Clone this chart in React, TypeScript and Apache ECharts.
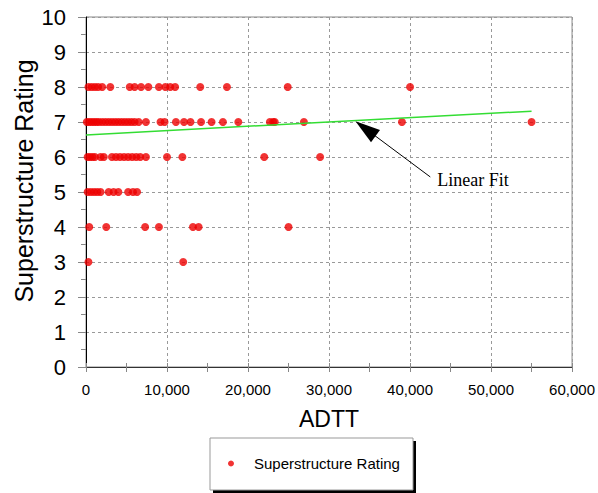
import React, { useEffect, useRef } from "react";
import * as echarts from "echarts";

// ADTT values observed for each superstructure rating
const rating8 = [300, 700, 1100, 1500, 2000, 3000, 5400, 6000, 6800, 7700, 9000, 9800, 10400, 11000, 14100, 17400, 24900, 40000];
const rating7 = [100, 400, 700, 1000, 1300, 1600, 2000, 2400, 2800, 3200, 3600, 4000, 4400, 4800, 5200, 5600, 6000, 6500, 7400, 9200, 9700, 11100, 12100, 12900, 14200, 15500, 16900, 18800, 22700, 23100, 23300, 26900, 39000, 55000];
const rating6 = [200, 500, 800, 1100, 1800, 2200, 3200, 3700, 4200, 4700, 5200, 5700, 6200, 6700, 7400, 10000, 11900, 22000, 28900];
const rating5 = [200, 600, 1000, 1400, 1800, 2800, 3400, 4000, 5200, 5800, 6300];
const rating4 = [400, 2500, 7300, 9000, 13200, 13900, 25000];
const rating3 = [300, 12000];

const ratingGroups: [number, number[]][] = [
  [8, rating8],
  [7, rating7],
  [6, rating6],
  [5, rating5],
  [4, rating4],
  [3, rating3],
];

// Linear fit end points
const fitX = [0, 55000];
const fitY = [6.63, 7.31];

// Annotation: arrow tail / arrowhead centre and label anchor, in data units
const arrowTail = [42500, 5.43];
const arrowHead = [34500, 6.81];
const fitLabelAt = [43300, 5.34];

const seriesName = "Superstructure Rating";

export default function App() {
  const ref = useRef<HTMLDivElement>(null);

  useEffect(() => {
    if (!ref.current) return;
    const chart = echarts.init(ref.current, undefined, { renderer: "svg" });

    const points: number[][] = [];
    ratingGroups.forEach(([r, xs]) => xs.forEach((x) => points.push([x, r])));

    const sans = "Arial, 'Liberation Sans', sans-serif";

    chart.setOption({
      animation: false,
      backgroundColor: "#ffffff",
      grid: {
        left: 86,
        top: 17,
        width: 490,
        height: 350,
        show: true,
        borderColor: "#888888",
        borderWidth: 1,
      },
      legend: {
        data: [seriesName],
        left: 228,
        top: 456,
        padding: 0,
        icon: "circle",
        itemWidth: 36,
        itemHeight: 6,
        textStyle: { fontFamily: sans, fontSize: 15, color: "#000" },
      },
      xAxis: [
        {
          type: "value",
          min: 0,
          max: 60000,
          interval: 10000,
          name: "ADTT",
          nameLocation: "middle",
          nameGap: 40,
          nameTextStyle: { fontFamily: sans, fontSize: 23, color: "#000" },
          axisLine: { show: true, lineStyle: { color: "#333", width: 1 } },
          axisTick: { show: true, length: 5, lineStyle: { color: "#888" } },
          minorTick: { show: true, splitNumber: 2, length: 5, lineStyle: { color: "#888" } },
          axisLabel: {
            fontFamily: sans,
            fontSize: 15,
            color: "#000",
            margin: 15,
            formatter: (v: number) => v.toLocaleString("en-US"),
          },
          splitLine: { show: true, lineStyle: { color: "#999", type: [3, 3], width: 1 } },
        },
        {
          type: "value",
          min: 0,
          max: 60000,
          interval: 10000,
          position: "bottom",
          gridIndex: 0,
          axisLine: { show: false },
          axisTick: { show: true, inside: true, length: 4, lineStyle: { color: "#888" } },
          minorTick: { show: true, splitNumber: 2, length: 4, lineStyle: { color: "#888" } },
          axisLabel: { show: false },
          splitLine: { show: false },
        },
      ],
      yAxis: {
        type: "value",
        min: 0,
        max: 10,
        interval: 1,
        axisLine: { show: true, lineStyle: { color: "#000", width: 1 } },
        axisTick: { show: true, length: 8, lineStyle: { color: "#888" } },
        minorTick: { show: true, splitNumber: 2, length: 5, lineStyle: { color: "#888" } },
        axisLabel: { fontFamily: sans, fontSize: 22, color: "#000", margin: 20 },
        splitLine: { show: true, lineStyle: { color: "#999", type: [3, 3], width: 1 } },
      },
      graphic: [
        {
          type: "text",
          x: 24,
          y: 181,
          rotation: Math.PI / 2,
          style: {
            text: seriesName,
            fontFamily: sans,
            fontSize: 25,
            fill: "#000",
            textAlign: "center",
            textVerticalAlign: "middle",
          },
        },
        { type: "rect", z: -2, shape: { x: 213, y: 441, width: 203, height: 52 }, style: { fill: "#000" } },
        { type: "rect", z: -1, shape: { x: 210, y: 438, width: 203, height: 52 }, style: { fill: "#fff", stroke: "#999", lineWidth: 1 } },
      ],
      series: [
        {
          name: seriesName,
          type: "scatter",
          data: points,
          symbol: "circle",
          symbolSize: 8,
          itemStyle: { color: "#ee0000" },
          z: 3,
        },
        {
          name: "Linear Fit",
          type: "line",
          data: fitX.map((x, i) => [x, fitY[i]]),
          showSymbol: false,
          lineStyle: { color: "#33dd33", width: 1.5 },
          itemStyle: { color: "#33dd33" },
          z: 4,
          markLine: {
            silent: true,
            symbol: ["none", "triangle"],
            symbolSize: [15, 25],
            lineStyle: { color: "#000", width: 1, type: "solid" },
            itemStyle: { color: "#000" },
            label: { show: false },
            data: [[{ coord: arrowTail }, { coord: arrowHead }]],
          },
          markPoint: {
            silent: true,
            symbol: "circle",
            symbolSize: 1,
            itemStyle: { color: "rgba(0,0,0,0)" },
            label: {
              show: true,
              position: "right",
              distance: 0,
              formatter: "Linear Fit",
              fontFamily: "'Liberation Serif', 'Times New Roman', serif",
              fontSize: 18,
              color: "#000",
            },
            data: [{ coord: fitLabelAt }],
          },
        },
      ],
    });

    return () => chart.dispose();
  }, []);

  return (
    <div
      ref={ref}
      style={{ position: "fixed", left: 0, top: 0, width: 598, height: 493, background: "#fff" }}
    />
  );
}
